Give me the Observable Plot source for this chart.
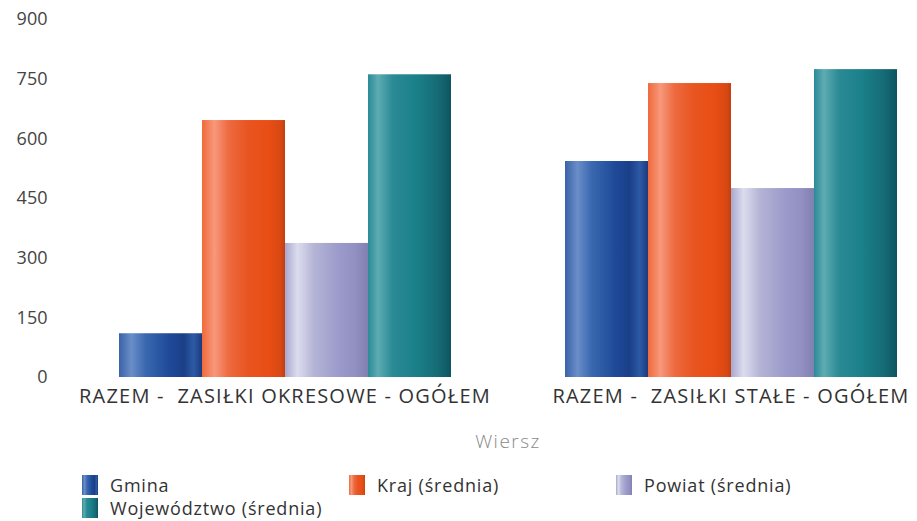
<!DOCTYPE html>
<html>
<head>
<meta charset="utf-8">
<script src="https://cdn.jsdelivr.net/npm/d3@7"></script>
<script src="https://cdn.jsdelivr.net/npm/@observablehq/plot@0.6"></script>
<style>
  body { margin: 0; background: #fff; font-family: "Open Sans", Roboto, sans-serif; }
  #chart { width: 917px; }
  .legend { display: flex; flex-wrap: wrap; padding-left: 82px; margin-top: 13px; width: 835px; }
  .item { width: 267px; height: 23px; display: flex; align-items: center; font-size: 18px; line-height: 20px; letter-spacing: 0.8px; color: #333; }
  .sw { width: 16px; height: 20px; margin-right: 12px; flex: none; }
</style>
</head>
<body>
<div id="chart"></div>
<script>
const categories = ["RAZEM -\u00a0 ZASIŁKI OKRESOWE - OGÓŁEM", "RAZEM -\u00a0 ZASIŁKI STAŁE - OGÓŁEM"];
const series = ["Gmina", "Kraj (średnia)", "Powiat (średnia)", "Województwo (średnia)"];
const gmina = [110, 543];
const kraj = [646, 739];
const powiat = [337, 475];
const wojewodztwo = [761, 774];
const yTicks = [0, 150, 300, 450, 600, 750, 900];
const axisTitle = "Wiersz";

const gradients = [
  [[0, "#3a62a8"], [0.15, "#6a8ec8"], [0.32, "#3a68b0"], [0.6, "#1f4a98"], [0.78, "#1a3f88"], [0.9, "#2d5aa5"], [1, "#1a3a80"]],
  [[0, "#f06a3a"], [0.15, "#f7987c"], [0.32, "#ee6a40"], [0.55, "#e85520"], [0.8, "#e84e15"], [0.95, "#d84812"], [1, "#c04010"]],
  [[0, "#a8a8d0"], [0.15, "#dcdcee"], [0.35, "#b4b4d6"], [0.65, "#9c9aca"], [0.85, "#9290c2"], [1, "#8080b0"]],
  [[0, "#2a8a98"], [0.12, "#5eacb2"], [0.3, "#2a8a95"], [0.6, "#1a7f88"], [0.85, "#156a75"], [1, "#0e5560"]]
];
const gradIds = series.map((s, i) => "grad" + i);

const values = [gmina, kraj, powiat, wojewodztwo];
const data = [];
categories.forEach((c, ci) => series.forEach((s, si) => data.push({cat: c, series: s, value: values[si][ci]})));

const plot = Plot.plot({
  width: 917,
  height: 460,
  marginTop: 19,
  marginBottom: 83,
  marginLeft: 117,
  marginRight: 19,
  style: {fontFamily: "'Open Sans', Roboto, sans-serif", background: "#fff"},
  fx: {domain: categories, paddingInner: 0.249, paddingOuter: 0},
  x: {domain: series, padding: 0, axis: null},
  y: {domain: [0, 900]},
  color: {domain: series, range: gradIds.map(id => `url(#${id})`)},
  marks: [
    Plot.barY(data, {fx: "cat", x: "series", y: "value", fill: "series"}),
    Plot.axisY({ticks: yTicks, tickSize: 0, tickPadding: 70, label: null, fontSize: 18, color: "#444"}),
    Plot.axisFx({anchor: "bottom", tickSize: 0, tickPadding: 11, fontSize: 20, color: "#333", label: null}),
    Plot.axisFx({anchor: "bottom", ticks: [], tickSize: 0, label: axisTitle, labelAnchor: "center", labelArrow: "none", labelOffset: 70, fontSize: 19, color: "#8a8a8a"})
  ]
});

const svg = d3.select(plot);
svg.selectAll('[aria-label="y-axis tick label"]').style("font-size", "18px");
svg.selectAll('[aria-label="fx-axis tick label"]').style("font-size", "20px").style("letter-spacing", "1.2px");
svg.selectAll('[aria-label="fx-axis label"]').style("font-size", "19px").style("font-weight", "300").style("letter-spacing", "1.5px");
const defs = svg.insert("defs", ":first-child");
gradients.forEach((stops, i) => {
  const g = defs.append("linearGradient").attr("id", gradIds[i]).attr("x1", "0").attr("x2", "1").attr("y1", "0").attr("y2", "0");
  stops.forEach(([o, c]) => g.append("stop").attr("offset", o).attr("stop-color", c));
});
document.getElementById("chart").appendChild(plot);

const legend = d3.select("#chart").append("div").attr("class", "legend");
series.forEach((s, i) => {
  const it = legend.append("div").attr("class", "item");
  it.append("div").attr("class", "sw")
    .style("background", `linear-gradient(to right, ${gradients[i].map(([o, c]) => `${c} ${o * 100}%`).join(", ")})`);
  it.append("span").text(s);
});
</script>
</body>
</html>
